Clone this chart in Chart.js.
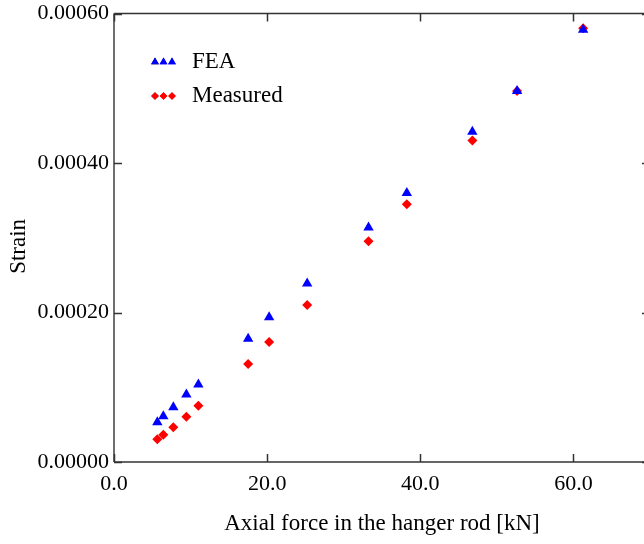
<!DOCTYPE html>
<html>
<head>
<meta charset="utf-8">
<script src="https://cdn.jsdelivr.net/npm/chart.js@4/dist/chart.umd.min.js"></script>
<style>
  html, body { margin: 0; padding: 0; background: #fff; overflow: hidden; }
  #wrap { width: 680px; height: 544px; }
</style>
</head>
<body>
<div id="wrap"><canvas id="strain_chart" width="680" height="544"></canvas></div>
<script>
// axial force [kN] and strain values
var force = [5.66, 6.44, 7.75, 9.45, 11.02, 17.52, 20.26, 25.23, 33.24, 38.24, 46.8, 52.64, 61.27];
var strain_fea = [0.0000533, 0.0000613, 0.0000734, 0.0000904, 0.0001038, 0.0001650, 0.0001935,
                  0.0002387, 0.0003137, 0.0003600, 0.0004417, 0.0004962, 0.0005783];
var strain_measured = [0.0000305, 0.0000364, 0.0000466, 0.0000605, 0.0000753, 0.0001310, 0.0001604,
                       0.0002100, 0.0002953, 0.0003449, 0.0004302, 0.0004962, 0.0005802];
var x_ticks = [0, 20, 40, 60];
var y_ticks = [0, 0.0002, 0.0004, 0.0006];

var serif = "'Liberation Serif', 'Times New Roman', serif";

function toPoints(xs, ys) {
  return xs.map(function (x, i) { return {x: x, y: ys[i]}; });
}

// frame with inward tick marks on all four sides, plus the legend
const framePlugin = {
  id: 'frame',
  afterDraw: function (chart) {
    const ctx = chart.ctx;
    const a = chart.chartArea;
    const xs = chart.scales.x, ys = chart.scales.y;
    ctx.save();
    ctx.lineWidth = 1.5;
    ctx.strokeStyle = '#333';
    ctx.beginPath();
    ctx.moveTo(a.left, a.top); ctx.lineTo(a.right, a.top);
    ctx.moveTo(a.left, a.bottom); ctx.lineTo(a.right, a.bottom);
    ctx.moveTo(a.right, a.top); ctx.lineTo(a.right, a.bottom);
    ctx.stroke();
    ctx.strokeStyle = '#6e6e6e';
    ctx.lineWidth = 2;
    ctx.beginPath();
    ctx.moveTo(a.left, a.top); ctx.lineTo(a.left, a.bottom);
    ctx.stroke();
    ctx.lineWidth = 1.5;
    ctx.strokeStyle = '#333';
    ctx.beginPath();
    x_ticks.forEach(function (v) {
      const px = Math.round(xs.getPixelForValue(v)) + 0.5;
      ctx.moveTo(px, a.bottom); ctx.lineTo(px, a.bottom - 8);
      ctx.moveTo(px, a.top); ctx.lineTo(px, a.top + 8);
    });
    y_ticks.forEach(function (v) {
      const py = Math.round(ys.getPixelForValue(v)) + 0.5;
      ctx.moveTo(a.left, py); ctx.lineTo(a.left + 8, py);
      ctx.moveTo(a.right, py); ctx.lineTo(a.right - 8, py);
    });
    ctx.stroke();

    // legend
    const items = [
      {text: 'FEA', style: 'triangle', color: '#0000ff', r: 4.5, y: 62},
      {text: 'Measured', style: 'rectRot', color: '#ff0000', r: 3.8, y: 96}
    ];
    ctx.font = '23px ' + serif;
    ctx.textBaseline = 'middle';
    ctx.fillStyle = '#000';
    items.forEach(function (it) {
      [155, 163.5, 172].forEach(function (mx) {
        Chart.helpers.drawPoint(ctx, {pointStyle: it.style, radius: it.r, borderWidth: 0}, mx, it.y);
        ctx.fillStyle = it.color;
        ctx.fill();
      });
      ctx.fillStyle = '#000';
      ctx.fillText(it.text, 192, it.y);
    });
    ctx.restore();
  }
};

const data_strain = {
  datasets: [{
    label: 'FEA',
    data: toPoints(force, strain_fea),
    pointStyle: 'triangle',
    pointRadius: 6,
    borderWidth: 0,
    backgroundColor: '#0000ff',
    borderColor: '#0000ff'
  }, {
    label: 'Measured',
    data: toPoints(force, strain_measured),
    pointStyle: 'rectRot',
    pointRadius: 5,
    borderWidth: 0,
    backgroundColor: '#ff0000',
    borderColor: '#ff0000'
  }]
};

const config_strain = {
  type: 'scatter',
  data: data_strain,
  options: {
    responsive: false,
    animation: false,
    devicePixelRatio: 1,
    layout: {padding: {top: 13.5, right: 30, left: 0, bottom: 0}},
    plugins: {
      legend: {display: false},
      tooltip: {enabled: false}
    },
    scales: {
      x: {
        type: 'linear',
        min: 0,
        max: 70,
        afterFit: function (s) {
          s.height = 82;
          s.paddingLeft = 0;
          s.paddingRight = 0;
        },
        afterBuildTicks: function (s) { s.ticks = x_ticks.map(function (v) { return {value: v}; }); },
        grid: {display: false, drawTicks: false},
        border: {display: false},
        ticks: {
          padding: 9,
          color: '#000',
          font: {family: serif, size: 22},
          maxRotation: 0,
          callback: function (v) { return v.toFixed(1); }
        },
        title: {
          display: true,
          text: 'Axial force in the hanger rod [kN]',
          color: '#000',
          font: {family: serif, size: 23},
          padding: {top: 0, bottom: 6}
        }
      },
      y: {
        type: 'linear',
        min: 0,
        max: 0.0006,
        afterFit: function (s) {
          s.width = 114;
          s.paddingTop = 0;
          s.paddingBottom = 0;
        },
        afterBuildTicks: function (s) { s.ticks = y_ticks.map(function (v) { return {value: v}; }); },
        grid: {display: false, drawTicks: false},
        border: {display: false},
        ticks: {
          padding: 5,
          color: '#000',
          font: {family: serif, size: 22},
          callback: function (v) { return v.toFixed(5); }
        },
        title: {
          display: true,
          text: 'Strain   ',
          color: '#000',
          font: {family: serif, size: 23},
          padding: {top: 5, bottom: 0}
        }
      }
    }
  },
  plugins: [framePlugin]
};

const myChartStrain = new Chart(
  document.getElementById('strain_chart'),
  config_strain
);
</script>
</body>
</html>
